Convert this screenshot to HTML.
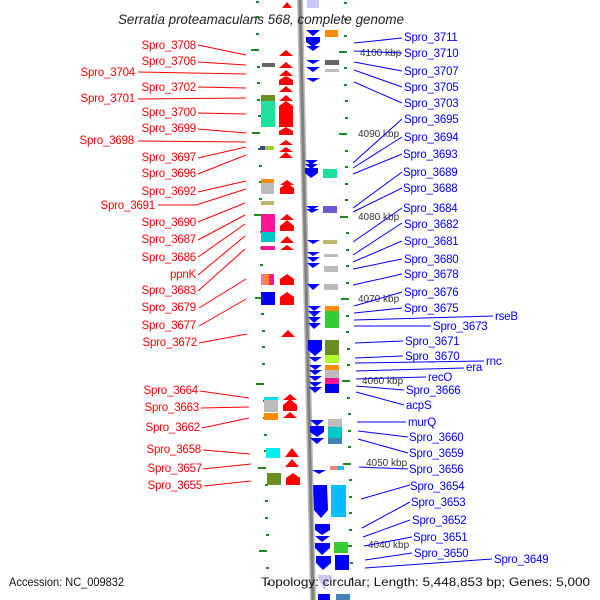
<!DOCTYPE html>
<html><head><meta charset="utf-8"><style>
body{margin:0;background:#fff}
svg{display:block}
text{font-family:"Liberation Sans","DejaVu Sans",sans-serif;font-size:11.5px;letter-spacing:-0.2px}
.l{fill:#f00;text-anchor:end}
.r{fill:#00f}
.k{font-size:10px;fill:#333;letter-spacing:0}
</style></head><body>
<svg width="600" height="600" viewBox="0 0 600 600" xmlns="http://www.w3.org/2000/svg">
<rect width="600" height="600" fill="#fff"/>
<line x1="300" y1="0" x2="313" y2="600" stroke="#bbb" stroke-width="6"/>
<line x1="300" y1="0" x2="313" y2="600" stroke="#808080" stroke-width="3"/>
<g fill="#1a8a1a">
<rect x="256" y="1" width="3" height="2"/><rect x="256" y="16" width="3" height="2"/><rect x="256" y="33" width="3" height="2"/>
<rect x="251" y="49" width="8" height="2"/><rect x="257" y="66" width="3" height="2"/><rect x="257" y="82" width="3" height="2"/>
<rect x="257" y="99" width="3" height="2"/><rect x="258" y="115" width="3" height="2"/><rect x="252" y="132" width="8" height="2"/>
<rect x="258" y="148" width="3" height="2"/><rect x="259" y="165" width="3" height="2"/><rect x="259" y="181" width="3" height="2"/>
<rect x="259" y="198" width="3" height="2"/><rect x="254" y="214" width="8" height="2"/><rect x="260" y="231" width="3" height="2"/>
<rect x="260" y="247" width="3" height="2"/><rect x="260" y="264" width="3" height="2"/><rect x="261" y="280" width="3" height="2"/>
<rect x="255" y="297" width="8" height="2"/><rect x="261" y="313" width="3" height="2"/><rect x="262" y="330" width="3" height="2"/>
<rect x="262" y="346" width="3" height="2"/><rect x="262" y="363" width="3" height="2"/><rect x="256" y="383" width="8" height="2"/>
<rect x="263" y="400" width="3" height="2"/><rect x="263" y="417" width="3" height="2"/><rect x="264" y="434" width="3" height="2"/>
<rect x="264" y="450" width="3" height="2"/><rect x="258" y="467" width="8" height="2"/><rect x="265" y="484" width="3" height="2"/>
<rect x="265" y="500" width="3" height="2"/><rect x="265" y="517" width="3" height="2"/><rect x="266" y="534" width="3" height="2"/>
<rect x="259" y="550" width="8" height="2"/><rect x="266" y="567" width="3" height="2"/><rect x="267" y="583" width="3" height="2"/>
</g>
<g fill="#1a8a1a">
<rect x="344" y="2" width="3" height="2"/><rect x="344" y="18" width="3" height="2"/><rect x="344" y="35" width="3" height="2"/>
<rect x="339" y="51" width="8" height="2"/><rect x="344" y="67" width="3" height="2"/><rect x="344" y="84" width="3" height="2"/>
<rect x="345" y="100" width="3" height="2"/><rect x="345" y="117" width="3" height="2"/><rect x="339" y="133" width="8" height="2"/>
<rect x="345" y="150" width="3" height="2"/><rect x="345" y="166" width="3" height="2"/><rect x="345" y="183" width="3" height="2"/>
<rect x="345" y="199" width="3" height="2"/><rect x="340" y="216" width="8" height="2"/><rect x="346" y="232" width="3" height="2"/>
<rect x="346" y="249" width="3" height="2"/><rect x="346" y="265" width="3" height="2"/><rect x="346" y="282" width="3" height="2"/>
<rect x="341" y="298" width="8" height="2"/><rect x="346" y="315" width="3" height="2"/><rect x="346" y="331" width="3" height="2"/>
<rect x="347" y="348" width="3" height="2"/><rect x="347" y="364" width="3" height="2"/><rect x="342" y="380" width="8" height="2"/>
<rect x="347" y="397" width="3" height="2"/><rect x="348" y="413" width="3" height="2"/><rect x="348" y="430" width="3" height="2"/>
<rect x="348" y="446" width="3" height="2"/><rect x="343" y="463" width="8" height="2"/><rect x="349" y="479" width="3" height="2"/>
<rect x="349" y="496" width="3" height="2"/><rect x="349" y="512" width="3" height="2"/><rect x="349" y="529" width="3" height="2"/>
<rect x="344" y="545" width="8" height="2"/><rect x="350" y="562" width="3" height="2"/><rect x="350" y="578" width="3" height="2"/>
</g>
<rect x="262" y="63" width="13" height="4" fill="#666"/>
<rect x="261" y="95" width="14" height="6" fill="#6b8e23"/>
<rect x="261" y="101" width="14" height="26" fill="#20e0a0"/>
<rect x="260" y="146" width="5" height="4" fill="#4040a0"/><rect x="265" y="146" width="9" height="4" fill="#9acd32"/>
<rect x="261" y="179" width="13" height="4" fill="#ff8c00"/><rect x="261" y="183" width="13" height="11" fill="#bbb"/>
<rect x="261" y="201" width="13" height="4" fill="#bdb76b"/>
<rect x="261" y="214" width="14" height="18" fill="#ff1493"/><rect x="261" y="232" width="14" height="10" fill="#00c8c8"/>
<rect x="261" y="246" width="14" height="4" fill="#ff1493"/>
<rect x="261" y="274" width="4" height="11" fill="#f08080"/><rect x="265" y="274" width="4" height="11" fill="#ff8c00"/><rect x="269" y="274" width="5" height="11" fill="#ff1493"/>
<rect x="261" y="292" width="14" height="13" fill="#0000f0"/>
<rect x="264" y="397" width="14" height="3" fill="#00e0e0"/><rect x="264" y="400" width="14" height="12" fill="#bbb"/><rect x="264" y="413" width="14" height="7" fill="#ff8c00"/>
<rect x="266" y="448" width="14" height="10" fill="#00f0f0"/>
<rect x="267" y="473" width="14" height="12" fill="#6b8e23"/>
<g fill="#f00">
<path d="M282,8 L287,2 L292,8 Z"/>
<path d="M279,56 L286,50 L293,56 Z"/>
<path d="M279,68 L286,62 L293,68 Z"/>
<path d="M279,76 L286,70 L293,76 Z"/>
<path d="M279,80 h14 v5 h-14 Z M279,80 L286,76 L293,80 Z"/>
<path d="M279,92 L286,86 L293,92 Z"/>
<path d="M279,101 L286,95 L293,101 Z"/>
<path d="M279,106 L286,101 L293,106 v21 h-14 Z"/>
<path d="M279,135 L279,131 L286,127 L293,131 L293,135 Z"/>
<path d="M279,145 L286,140 L293,145 Z"/>
<path d="M279,152 L286,147 L293,152 Z"/>
<path d="M279,158 L286,152 L293,158 Z"/>
<path d="M280,185 L287,180 L294,185 Z"/>
<path d="M280,194 L280,188 L287,183 L294,188 L294,194 Z"/>
<path d="M280,220 L287,214 L294,220 Z"/>
<path d="M280,231 L280,226 L287,220 L294,226 L294,231 Z"/>
<path d="M280,243 L287,236 L294,243 Z"/>
<path d="M280,250 L287,245 L294,250 Z"/>
<path d="M280,285 L280,279 L287,274 L294,279 L294,285 Z"/>
<path d="M280,305 L280,297 L287,292 L294,297 L294,305 Z"/>
<path d="M281,337 L288,330 L295,337 Z"/>
<path d="M283,400 L290,394 L297,400 Z"/>
<path d="M283,411 L283,405 L290,399 L297,405 L297,411 Z"/>
<path d="M283,418 L290,412 L297,418 Z"/>
<path d="M285,457 L292,448 L299,457 Z"/>
<path d="M285,467 L292,459 L299,467 Z"/>
<path d="M286,485 L286,478 L293,473 L300,478 L300,485 Z"/>
</g>
<rect x="307" y="0" width="12" height="8" fill="#c8c8f8"/>
<rect x="325" y="30" width="13" height="7" fill="#ff8c00"/>
<rect x="325" y="60" width="14" height="5" fill="#666"/>
<rect x="325" y="69" width="14" height="3" fill="#bbb"/>
<rect x="323" y="169" width="14" height="9" fill="#20e0a0"/>
<rect x="323" y="206" width="14" height="7" fill="#6a5acd"/>
<rect x="323" y="240" width="14" height="4" fill="#bdb76b"/>
<rect x="324" y="254" width="14" height="3" fill="#bbb"/>
<rect x="324" y="266" width="14" height="6" fill="#bbb"/>
<rect x="324" y="284" width="14" height="6" fill="#bbb"/>
<rect x="325" y="306" width="14" height="5" fill="#ff8c00"/>
<rect x="325" y="311" width="14" height="17" fill="#32cd32"/>
<rect x="325" y="340" width="14" height="15" fill="#6b8e23"/>
<rect x="325" y="355" width="14" height="8" fill="#adff2f"/>
<rect x="325" y="365" width="14" height="5" fill="#ff8c00"/>
<rect x="325" y="370" width="14" height="8" fill="#bbb"/>
<rect x="325" y="378" width="14" height="6" fill="#ff1493"/>
<rect x="325" y="384" width="14" height="9" fill="#0000f0"/>
<rect x="328" y="419" width="14" height="8" fill="#bbb"/>
<rect x="328" y="427" width="14" height="11" fill="#00c8c8"/>
<rect x="328" y="438" width="14" height="6" fill="#4682b4"/>
<rect x="330" y="466" width="8" height="4" fill="#f08080"/><rect x="338" y="466" width="6" height="4" fill="#00bfff"/>
<rect x="331" y="485" width="15" height="32" fill="#00bfff"/>
<rect x="334" y="542" width="14" height="11" fill="#32cd32"/>
<rect x="335" y="555" width="14" height="15" fill="#0000f0"/>
<rect x="336" y="594" width="14" height="6" fill="#4682b4"/>
<g fill="#00f">
<path d="M306,30 L320,30 L313,36 Z"/>
<path d="M306,37 L320,37 L320,42 L313,47 L306,42 Z"/>
<path d="M306,46 L320,46 L313,51 Z"/>
<path d="M306,60 L320,60 L313,64 Z"/>
<path d="M306,67 L320,67 L313,72 Z"/>
<path d="M306,78 L320,78 L313,82 Z"/>
<path d="M305,160 L318,160 L311,165 Z"/>
<path d="M305,164 L318,164 L311,169 Z"/>
<path d="M305,168 L318,168 L318,173 L311,178 L305,173 Z"/>
<path d="M306,206 L319,206 L312,210 Z"/>
<path d="M306,209 L319,209 L312,213 Z"/>
<path d="M307,240 L320,240 L313,244 Z"/>
<path d="M307,252 L320,252 L313,256 Z"/>
<path d="M307,257 L320,257 L313,262 Z"/>
<path d="M307,263 L320,263 L313,268 Z"/>
<path d="M307,284 L320,284 L313,290 Z"/>
<path d="M308,306 L321,306 L314,311 Z"/>
<path d="M308,311 L321,311 L314,317 Z"/>
<path d="M308,317 L321,317 L314,323 Z"/>
<path d="M308,323 L321,323 L314,329 Z"/>
<path d="M308,340 L322,340 L322,350 L315,356 L308,350 Z"/>
<path d="M309,357 L322,357 L315,362 Z"/>
<path d="M309,365 L322,365 L315,370 Z"/>
<path d="M309,370 L322,370 L315,375 Z"/>
<path d="M309,376 L322,376 L315,381 Z"/>
<path d="M309,382 L322,382 L315,387 Z"/>
<path d="M309,387 L322,387 L315,393 Z"/>
<path d="M310,420 L324,420 L317,426 Z"/>
<path d="M310,426 L324,426 L324,432 L317,437 L310,432 Z"/>
<path d="M310,438 L324,438 L317,444 Z"/>
<path d="M312,470 L326,470 L319,474 Z"/>
<path d="M313,485 L327,485 L328,510 L321,518 L314,510 Z"/>
<path d="M315,524 L330,524 L330,530 L322,535 L315,530 Z"/>
<path d="M315,536 L330,536 L322,542 Z"/>
<path d="M315,543 L330,543 L330,548 L322,555 L315,548 Z"/>
<path d="M316,556 L331,556 L331,563 L323,570 L316,563 Z"/>
</g>
<path d="M317,575 L332,575 L324,590 Z" fill="#c8c8f8"/>
<rect x="318" y="594" width="12" height="6" fill="#0000f0"/>
<text x="118" y="24" textLength="286" lengthAdjust="spacingAndGlyphs" style="font-style:italic;font-size:14px;fill:#222;letter-spacing:0">Serratia proteamaculans 568, complete genome</text>
<text class="k" x="360" y="56">4100 kbp</text>
<text class="k" x="358" y="137">4090 kbp</text>
<text class="k" x="358" y="220">4080 kbp</text>
<text class="k" x="358" y="302">4070 kbp</text>
<text class="k" x="362" y="384">4060 kbp</text>
<text class="k" x="366" y="466">4050 kbp</text>
<text class="k" x="368" y="548">4040 kbp</text>
<g stroke="#f00" stroke-width="1" fill="none">
<path d="M198,45 L246,55"/><path d="M198,62 L246,65"/><path d="M138,72 L246,74"/>
<path d="M198,87 L246,88"/><path d="M138,99 L246,98"/><path d="M198,113 L246,114"/>
<path d="M198,129 L246,133"/><path d="M138,141 L246,142"/><path d="M198,158 L246,147"/>
<path d="M198,174 L246,155"/><path d="M198,192 L246,181"/><path d="M158,205 L196,205 L246,189"/>
<path d="M198,222 L245,203"/><path d="M198,240 L245,215"/><path d="M198,257 L245,224"/>
<path d="M198,275 L245,236"/><path d="M198,291 L245,249"/><path d="M199,308 L246,279"/>
<path d="M199,326 L246,299"/><path d="M199,343 L247,334"/><path d="M200,391 L249,398"/>
<path d="M201,408 L249,407"/><path d="M202,428 L249,418"/><path d="M203,450 L250,454"/>
<path d="M203,469 L251,464"/><path d="M204,486 L251,481"/>
</g>
<g>
<text class="l" x="196" y="49">Spro_3708</text>
<text class="l" x="196" y="65">Spro_3706</text>
<text class="l" x="135" y="76">Spro_3704</text>
<text class="l" x="196" y="91">Spro_3702</text>
<text class="l" x="135" y="102">Spro_3701</text>
<text class="l" x="196" y="116">Spro_3700</text>
<text class="l" x="196" y="132">Spro_3699</text>
<text class="l" x="134" y="144">Spro_3698</text>
<text class="l" x="196" y="161">Spro_3697</text>
<text class="l" x="196" y="177">Spro_3696</text>
<text class="l" x="196" y="195">Spro_3692</text>
<text class="l" x="155" y="209">Spro_3691</text>
<text class="l" x="196" y="226">Spro_3690</text>
<text class="l" x="196" y="243">Spro_3687</text>
<text class="l" x="196" y="261">Spro_3686</text>
<text class="l" x="196" y="278">ppnK</text>
<text class="l" x="196" y="294">Spro_3683</text>
<text class="l" x="196" y="311">Spro_3679</text>
<text class="l" x="196" y="329">Spro_3677</text>
<text class="l" x="197" y="346">Spro_3672</text>
<text class="l" x="198" y="394">Spro_3664</text>
<text class="l" x="199" y="411">Spro_3663</text>
<text class="l" x="200" y="431">Spro_3662</text>
<text class="l" x="201" y="453">Spro_3658</text>
<text class="l" x="202" y="472">Spro_3657</text>
<text class="l" x="202" y="489">Spro_3655</text>
</g>
<g stroke="#00f" stroke-width="1" fill="none">
<path d="M354,43 L402,38"/><path d="M354,51 L402,53"/><path d="M354,62 L402,71"/>
<path d="M354,70 L402,87"/><path d="M354,82 L402,103"/><path d="M353,163 L402,119"/>
<path d="M353,168 L402,137"/><path d="M353,174 L402,154"/><path d="M353,208 L402,172"/>
<path d="M353,212 L402,188"/><path d="M353,242 L402,208"/><path d="M353,255 L402,223"/>
<path d="M353,262 L402,241"/><path d="M353,269 L402,259"/><path d="M353,285 L402,274"/>
<path d="M354,306 L402,292"/><path d="M354,313 L402,308"/><path d="M354,320 L493,316"/>
<path d="M354,326 L431,326"/><path d="M355,343 L403,341"/><path d="M355,358 L403,356"/>
<path d="M355,363 L484,361"/><path d="M356,371 L464,368"/><path d="M356,379 L426,377"/>
<path d="M356,386 L404,390"/><path d="M356,392 L404,405"/><path d="M357,422 L406,422"/>
<path d="M358,431 L408,437"/><path d="M358,439 L408,453"/><path d="M359,467 L408,469"/>
<path d="M361,499 L410,485"/><path d="M362,528 L410,502"/><path d="M363,537 L410,520"/>
<path d="M364,546 L412,537"/><path d="M365,560 L412,553"/><path d="M365,568 L492,559"/>
</g>
<g>
<text class="r" x="404" y="41">Spro_3711</text>
<text class="r" x="404" y="57">Spro_3710</text>
<text class="r" x="404" y="75">Spro_3707</text>
<text class="r" x="404" y="91">Spro_3705</text>
<text class="r" x="404" y="107">Spro_3703</text>
<text class="r" x="404" y="123">Spro_3695</text>
<text class="r" x="404" y="141">Spro_3694</text>
<text class="r" x="403" y="158">Spro_3693</text>
<text class="r" x="403" y="176">Spro_3689</text>
<text class="r" x="403" y="192">Spro_3688</text>
<text class="r" x="403" y="212">Spro_3684</text>
<text class="r" x="404" y="228">Spro_3682</text>
<text class="r" x="404" y="245">Spro_3681</text>
<text class="r" x="404" y="263">Spro_3680</text>
<text class="r" x="404" y="278">Spro_3678</text>
<text class="r" x="404" y="296">Spro_3676</text>
<text class="r" x="404" y="312">Spro_3675</text>
<text class="r" x="495" y="320">rseB</text>
<text class="r" x="433" y="330">Spro_3673</text>
<text class="r" x="405" y="345">Spro_3671</text>
<text class="r" x="405" y="360">Spro_3670</text>
<text class="r" x="486" y="365">rnc</text>
<text class="r" x="466" y="371">era</text>
<text class="r" x="428" y="381">recO</text>
<text class="r" x="406" y="394">Spro_3666</text>
<text class="r" x="406" y="409">acpS</text>
<text class="r" x="408" y="426">murQ</text>
<text class="r" x="409" y="441">Spro_3660</text>
<text class="r" x="409" y="457">Spro_3659</text>
<text class="r" x="409" y="473">Spro_3656</text>
<text class="r" x="410" y="490">Spro_3654</text>
<text class="r" x="411" y="506">Spro_3653</text>
<text class="r" x="412" y="524">Spro_3652</text>
<text class="r" x="413" y="541">Spro_3651</text>
<text class="r" x="414" y="557">Spro_3650</text>
<text class="r" x="494" y="563">Spro_3649</text>
</g>
<text x="9" y="586" textLength="115" lengthAdjust="spacingAndGlyphs" style="fill:#111;font-size:12px;letter-spacing:0">Accession: NC_009832</text>
<text x="261" y="586" textLength="329" lengthAdjust="spacingAndGlyphs" style="fill:#111;font-size:12px;letter-spacing:0">Topology: circular; Length: 5,448,853 bp; Genes: 5,000</text>
</svg>
</body></html>
